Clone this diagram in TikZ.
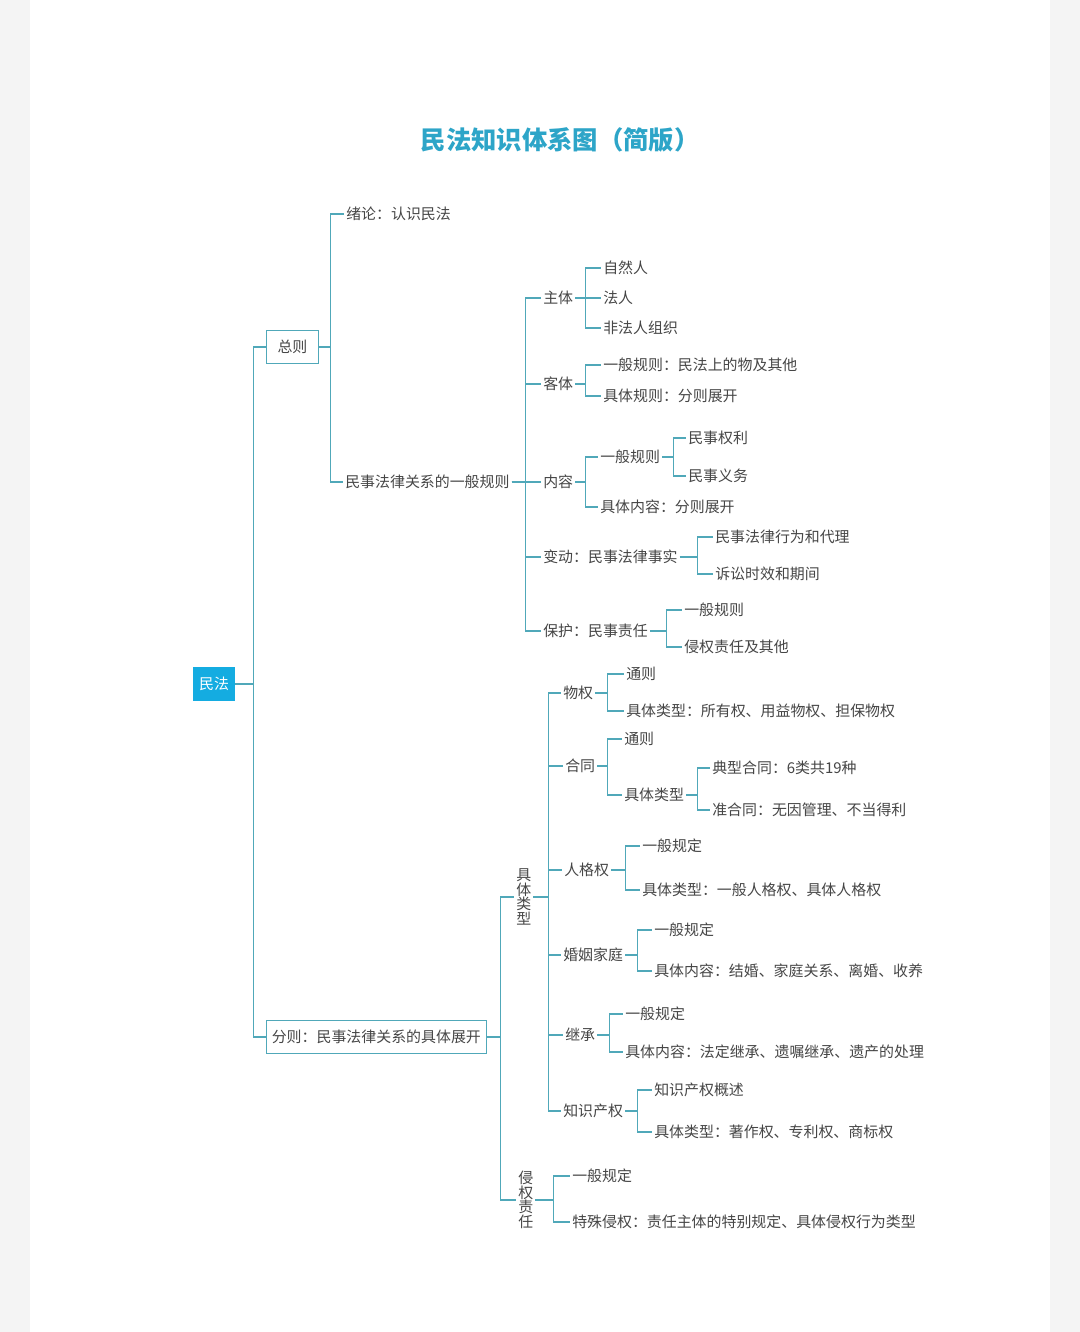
\documentclass[tikz,border=0pt]{standalone}
\usepackage{fontspec}
\setmainfont{Noto Sans CJK SC}
\usetikzlibrary{positioning}
\definecolor{treeline}{RGB}{80, 168, 185}
\definecolor{titleblue}{RGB}{45, 165, 200}
\definecolor{rootblue}{RGB}{20, 172, 225}
\definecolor{txtgray}{RGB}{70, 70, 70}
\definecolor{pagegray}{RGB}{244, 244, 244}

\begin{document}
\begin{tikzpicture}[x=0.75pt, y=-0.75pt,
    link/.style={draw=treeline, line width=0.8pt},
    leaf/.style={anchor=west, inner xsep=1.5pt, inner ysep=1pt, text=txtgray, font=\fontsize{11.2}{13}\selectfont},
    box/.style={leaf, draw=treeline, line width=0.7pt, fill=white, minimum height=24.5pt, inner xsep=4pt},
    vert/.style={leaf, align=center, font=\fontsize{11.2}{11}\selectfont}]
    % page
    \fill[pagegray] (0,0) rectangle (1080,1332);
    \fill[white] (30,0) rectangle (1050,1332);
    \node[font=\fontsize{19}{22}\selectfont\bfseries, text=titleblue] (title) at (560,140) {民法知识体系图（简版）};

    % root and the two parts
    \node[fill=rootblue, text=white, minimum width=31.5pt, minimum height=25.5pt, inner sep=0pt, font=\fontsize{11.2}{13}\selectfont] (minfa) at (214,684) {民法};
    \node[box, minimum width=39pt] (zongze) at (266,347) {总则};
    \node[box] (fenze) at (266,1037) {分则：民事法律关系的具体展开};
    \foreach \c in {zongze,fenze} \draw[link] (minfa.east) -- ++(18,0) |- (\c.west);

    % zongze
    \node[leaf] (xulun) at (344,214) {绪论：认识民法};
    \node[leaf] (gbgz) at (343,482) {民事法律关系的一般规则};
    \foreach \c in {xulun,gbgz} \draw[link] (zongze.east) -- ++(12,0) |- (\c.west);

    \node[leaf] (zhuti) at (541,298) {主体};
    \node[leaf] (keti) at (541,384) {客体};
    \node[leaf] (neirong) at (541,482) {内容};
    \node[leaf] (biandong) at (541,557) {变动：民事法律事实};
    \node[leaf] (baohu) at (541,631) {保护：民事责任};
    \foreach \c in {zhuti,keti,neirong,biandong,baohu} \draw[link] (gbgz.east) -- ++(14,0) |- (\c.west);

    \node[leaf] (zrr) at (601,268) {自然人};
    \node[leaf] (fr) at (601,298) {法人};
    \node[leaf] (ffr) at (601,328) {非法人组织};
    \foreach \c in {zrr,fr,ffr} \draw[link] (zhuti.east) -- ++(10,0) |- (\c.west);

    \node[leaf] (kt1) at (601,365) {一般规则：民法上的物及其他};
    \node[leaf] (kt2) at (601,396) {具体规则：分则展开};
    \foreach \c in {kt1,kt2} \draw[link] (keti.east) -- ++(10,0) |- (\c.west);

    \node[leaf] (nr1) at (598,457) {一般规则};
    \node[leaf] (nr2) at (598,507) {具体内容：分则展开};
    \foreach \c in {nr1,nr2} \draw[link] (neirong.east) -- ++(10,0) |- (\c.west);
    \node[leaf] (nr11) at (686,438) {民事权利};
    \node[leaf] (nr12) at (686,476) {民事义务};
    \foreach \c in {nr11,nr12} \draw[link] (nr1.east) -- ++(11,0) |- (\c.west);

    \node[leaf] (bd1) at (713,537) {民事法律行为和代理};
    \node[leaf] (bd2) at (713,574) {诉讼时效和期间};
    \foreach \c in {bd1,bd2} \draw[link] (biandong.east) -- ++(18,0) |- (\c.west);

    \node[leaf] (bh1) at (682,610) {一般规则};
    \node[leaf] (bh2) at (682,647) {侵权责任及其他};
    \foreach \c in {bh1,bh2} \draw[link] (baohu.east) -- ++(16,0) |- (\c.west);

    % fenze
    \node[vert] (jtlx) at (514,897) {具\\体\\类\\型};
    \node[vert] (qinquan) at (516,1200) {侵\\权\\责\\任};
    \foreach \c in {jtlx,qinquan} \draw[link] (fenze.east) -- ++(14,0) |- (\c.west);

    \node[leaf] (wuquan) at (561,693) {物权};
    \node[leaf] (hetong) at (563,766) {合同};
    \node[leaf] (rengequan) at (562,870) {人格权};
    \node[leaf] (hunyin) at (561,955) {婚姻家庭};
    \node[leaf] (jicheng) at (563,1035) {继承};
    \node[leaf] (zscq) at (561,1111) {知识产权};
    \foreach \c in {wuquan,hetong,rengequan,hunyin,jicheng,zscq} \draw[link] (jtlx.east) -- ++(15,0) |- (\c.west);

    \node[leaf] (wq1) at (624,674) {通则};
    \node[leaf] (wq2) at (624,711) {具体类型：所有权、用益物权、担保物权};
    \foreach \c in {wq1,wq2} \draw[link] (wuquan.east) -- ++(12,0) |- (\c.west);

    \node[leaf] (ht1) at (622,739) {通则};
    \node[leaf] (ht2) at (622,795) {具体类型};
    \foreach \c in {ht1,ht2} \draw[link] (hetong.east) -- ++(10,0) |- (\c.west);
    \node[leaf] (ht21) at (710,768) {典型合同：6类共19种};
    \node[leaf] (ht22) at (710,810) {准合同：无因管理、不当得利};
    \foreach \c in {ht21,ht22} \draw[link] (ht2.east) -- ++(11,0) |- (\c.west);

    \node[leaf] (rg1) at (640,846) {一般规定};
    \node[leaf] (rg2) at (640,890) {具体类型：一般人格权、具体人格权};
    \foreach \c in {rg1,rg2} \draw[link] (rengequan.east) -- ++(14,0) |- (\c.west);

    \node[leaf] (hy1) at (652,930) {一般规定};
    \node[leaf] (hy2) at (652,971) {具体内容：结婚、家庭关系、离婚、收养};
    \foreach \c in {hy1,hy2} \draw[link] (hunyin.east) -- ++(12,0) |- (\c.west);

    \node[leaf] (jc1) at (623,1014) {一般规定};
    \node[leaf] (jc2) at (623,1052) {具体内容：法定继承、遗嘱继承、遗产的处理};
    \foreach \c in {jc1,jc2} \draw[link] (jicheng.east) -- ++(12,0) |- (\c.west);

    \node[leaf] (zs1) at (652,1090) {知识产权概述};
    \node[leaf] (zs2) at (652,1132) {具体类型：著作权、专利权、商标权};
    \foreach \c in {zs1,zs2} \draw[link] (zscq.east) -- ++(12,0) |- (\c.west);

    \node[leaf] (qq1) at (570,1176) {一般规定};
    \node[leaf] (qq2) at (570,1222) {特殊侵权：责任主体的特别规定、具体侵权行为类型};
    \foreach \c in {qq1,qq2} \draw[link] (qinquan.east) -- ++(18,0) |- (\c.west);
\end{tikzpicture}
\end{document}
